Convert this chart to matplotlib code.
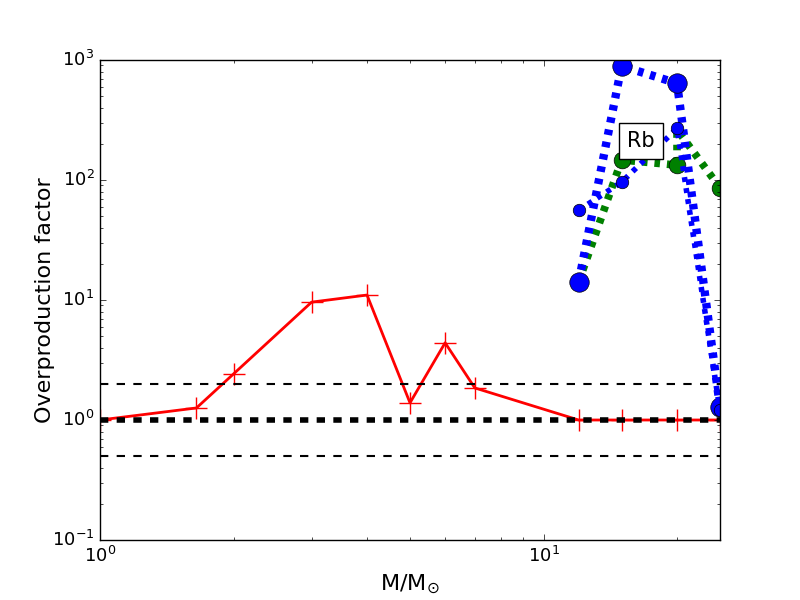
import matplotlib
matplotlib.use('Agg')
import matplotlib.pyplot as plt

# low mass (red, + markers)
m_low = [1.0, 1.65, 2.0, 3.0, 4.0, 5.0, 6.0, 7.0, 12.0, 15.0, 20.0, 25.0]
of_low = [1.0, 1.26, 2.42, 9.6, 11.0, 1.39, 4.4, 1.85, 1.0, 1.0, 1.0, 1.0]

# massive star sets
m_set1 = [12.0, 15.0, 20.0, 25.0]
of_set1 = [14.1, 890.0, 640.0, 1.28]

m_set2 = [12.0, 15.0, 20.0, 20.0, 25.0]
of_set2 = [14.1, 147.0, 133.0, 263.0, 86.0]

m_set3 = [12.0, 15.0, 20.0, 25.0]
of_set3 = [56.0, 96.0, 269.0, 1.2]

plt.style.use('classic')
plt.rcParams['mathtext.fontset'] = 'dejavusans'

fig = plt.figure(figsize=(8, 6), dpi=100, facecolor='white')
ax = fig.add_subplot(111)

ax.plot(m_low, of_low, color='red', linestyle='-', linewidth=2,
        marker='+', markersize=16, markeredgecolor='red', markeredgewidth=1)

ax.plot(m_set2, of_set2, color='green', linestyle=':', linewidth=5.5, dashes=(4, 5),
        marker='o', markersize=12, markerfacecolor='green', markevery=[0, 1, 2, 4])
ax.plot(m_set1, of_set1, color='blue', linestyle=':', linewidth=6, dashes=(4, 5),
        marker='o', markersize=14, markerfacecolor='blue')
ax.plot(m_set3, of_set3, color='blue', linestyle=':', linewidth=4, dashes=(3.5, 4.5),
        marker='o', markersize=9, markerfacecolor='blue')

ax.axhline(2.0, color='black', linestyle='--', linewidth=1.5)
ax.axhline(0.5, color='black', linestyle='--', linewidth=1.5)
ax.axhline(1.0, color='black', linestyle='--', linewidth=4)

ax.text(16.6, 211, 'Rb', fontsize=15, ha='center', va='center',
        bbox=dict(facecolor='white', edgecolor='black', pad=6))

ax.set_xscale('log')
ax.set_yscale('log')
ax.set_xlim(1, 25)
ax.set_ylim(0.1, 1000)
ax.set_xlabel(r'M/M$_{\odot}$', fontsize=16)
ax.set_ylabel('Overproduction factor', fontsize=16, labelpad=-2)
ax.tick_params(labelsize=13)

fig.subplots_adjust(left=0.125, right=0.9, bottom=0.1, top=0.9)
fig.savefig('out.png', dpi=100, facecolor='white')
